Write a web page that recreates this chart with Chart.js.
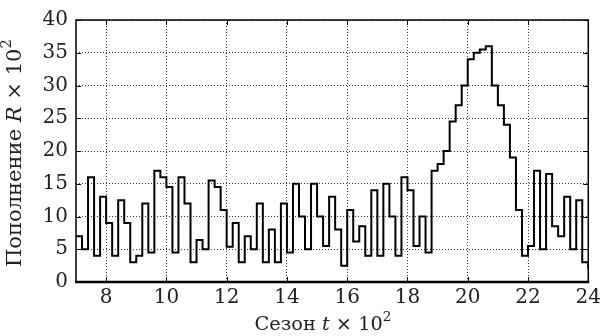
<!DOCTYPE html>
<html>
<head>
<meta charset="utf-8">
<script src="https://cdn.jsdelivr.net/npm/chart.js@4.4.0/dist/chart.umd.min.js"></script>
<style>
  html, body { margin: 0; padding: 0; background: #fff; }
</style>
</head>
<body>
<canvas id="chart" width="605" height="336"></canvas>
<script>
// season (x 10^2), left edge of each step
const seasons = [
  7.0, 7.2, 7.4, 7.6, 7.8, 8.0, 8.2, 8.4, 8.6, 8.8,
  9.0, 9.2, 9.4, 9.6, 9.8, 10.0, 10.2, 10.4, 10.6, 10.8,
  11.0, 11.2, 11.4, 11.6, 11.8, 12.0, 12.2, 12.4, 12.6, 12.8,
  13.0, 13.2, 13.4, 13.6, 13.8, 14.0, 14.2, 14.4, 14.6, 14.8,
  15.0, 15.2, 15.4, 15.6, 15.8, 16.0, 16.2, 16.4, 16.6, 16.8,
  17.0, 17.2, 17.4, 17.6, 17.8, 18.0, 18.2, 18.4, 18.6, 18.8,
  19.0, 19.2, 19.4, 19.6, 19.8, 20.0, 20.2, 20.4, 20.6, 20.8,
  21.0, 21.2, 21.4, 21.6, 21.8, 22.0, 22.2, 22.4, 22.6, 22.8,
  23.0, 23.2, 23.4, 23.6, 23.8, 24.0
];
// recruitment (x 10^2)
const recruitment = [
  7, 5, 16, 4, 13, 9, 4, 12.5, 9, 3,
  4, 12, 4.5, 17, 16, 14.5, 4.5, 16, 12, 3,
  6.4, 5, 15.5, 14.5, 11, 5.4, 9, 3, 7, 5,
  12, 3, 8, 3, 12, 4.5, 15, 10, 5, 15,
  10, 5.5, 13, 8, 2.5, 11, 6.2, 8.5, 4, 14,
  4, 15, 10, 4, 16, 14, 5.5, 10, 4.5, 17,
  18, 20, 24.5, 27, 30, 34, 35, 35.5, 36, 30,
  27, 24, 19, 11, 4, 5.5, 17, 5, 16.5, 8.5,
  7, 13, 5, 12.5, 3, 2
];
const xTicks = [8, 10, 12, 14, 16, 18, 20, 22, 24];
const yTicks = [0, 5, 10, 15, 20, 25, 30, 35, 40];

const serif = "'DejaVu Serif', 'Liberation Serif', serif";

// draw a label made of mixed-font pieces, scaled to a given width
function drawRich(ctx, parts, cx, cy, angle, width) {
  ctx.save();
  ctx.translate(cx, cy);
  ctx.rotate(angle);
  ctx.textBaseline = 'middle';
  ctx.textAlign = 'left';
  const fontOf = (p, k) => p.style + ' ' + (p.size * k).toFixed(2) + 'px ' + serif;
  let total = 0;
  parts.forEach(p => { ctx.font = fontOf(p, 1); total += ctx.measureText(p.text).width; });
  const k = width / total;
  let x = -width / 2;
  parts.forEach(p => {
    ctx.font = fontOf(p, k);
    ctx.fillStyle = '#222';
    ctx.fillText(p.text, x, (p.dy || 0) * k);
    x += ctx.measureText(p.text).width;
  });
  ctx.restore();
}

const framePlugin = {
  id: 'frame',
  afterDraw(chart) {
    const ctx = chart.ctx;
    const a = chart.chartArea;
    const xs = chart.scales.x, ys = chart.scales.y;
    ctx.save();
    ctx.strokeStyle = '#000';
    ctx.lineWidth = 1.5;
    ctx.strokeRect(a.left, a.top, a.right - a.left, a.bottom - a.top);
    ctx.lineWidth = 2.5;
    ctx.beginPath();
    ctx.moveTo(a.left - 1, a.bottom);
    ctx.lineTo(a.right + 1, a.bottom);
    ctx.stroke();
    ctx.lineWidth = 1;
    ctx.beginPath();
    yTicks.forEach(v => {
      const py = Math.round(ys.getPixelForValue(v)) + 0.5;
      ctx.moveTo(a.left, py); ctx.lineTo(a.left + 5, py);
      ctx.moveTo(a.right, py); ctx.lineTo(a.right - 5, py);
    });
    xTicks.forEach(v => {
      const px = Math.round(xs.getPixelForValue(v)) + 0.5;
      ctx.moveTo(px, a.top); ctx.lineTo(px, a.top + 5);
      ctx.moveTo(px, a.bottom); ctx.lineTo(px, a.bottom - 5);
    });
    ctx.stroke();
    ctx.restore();

    drawRich(ctx, [
      { text: 'Пополнение ', style: 'normal', size: 17 },
      { text: 'R', style: 'italic', size: 17 },
      { text: ' × 10', style: 'normal', size: 17 },
      { text: '2', style: 'normal', size: 12, dy: -7 }
    ], 16, 153, -Math.PI / 2, 228);
    drawRich(ctx, [
      { text: 'Сезон ', style: 'normal', size: 17 },
      { text: 't', style: 'italic', size: 17 },
      { text: ' × 10', style: 'normal', size: 17 },
      { text: '2', style: 'normal', size: 12, dy: -7 }
    ], 323, 325, 0, 137);
  }
};

const ctx = document.getElementById('chart').getContext('2d');
new Chart(ctx, {
  type: 'line',
  data: {
    datasets: [{
      data: seasons.map((s, i) => ({ x: s, y: recruitment[i] })),
      stepped: 'before',
      borderColor: '#000',
      borderWidth: 2,
      pointRadius: 0,
      fill: false
    }]
  },
  options: {
    responsive: false,
    animation: false,
    layout: { padding: { top: 20, right: 14, left: 0, bottom: 0 } },
    plugins: { legend: { display: false }, tooltip: { enabled: false } },
    scales: {
      x: {
        type: 'linear',
        min: 7,
        max: 24,
        afterBuildTicks: s => { s.ticks = xTicks.map(v => ({ value: v })); },
        afterFit: s => { s.height = 54; },
        grid: { color: '#333', lineWidth: 1, drawTicks: false },
        border: { display: false, dash: [1, 2] },
        ticks: { color: '#222', font: { family: serif, size: 20 }, padding: 4, maxRotation: 0 }
      },
      y: {
        min: 0,
        max: 40,
        afterBuildTicks: s => { s.ticks = yTicks.map(v => ({ value: v })); },
        afterFit: s => { s.width = 76; },
        grid: { color: '#333', lineWidth: 1, drawTicks: false },
        border: { display: false, dash: [1, 2] },
        ticks: { color: '#222', font: { family: serif, size: 20 }, padding: 8 }
      }
    }
  },
  plugins: [framePlugin]
});
</script>
</body>
</html>
